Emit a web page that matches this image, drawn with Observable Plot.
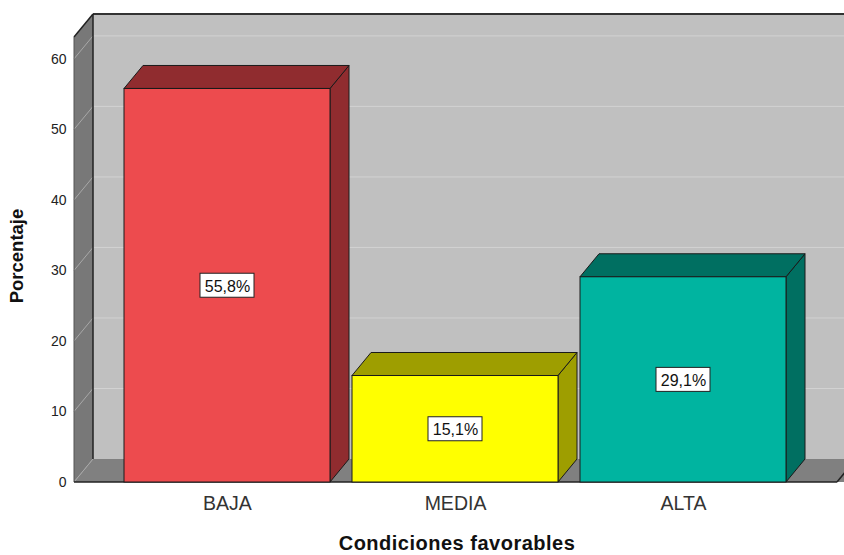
<!DOCTYPE html>
<html>
<head>
<meta charset="utf-8">
<script src="https://cdn.jsdelivr.net/npm/d3@7"></script>
<script src="https://cdn.jsdelivr.net/npm/@observablehq/plot@0.6"></script>
<style>
  html, body { margin: 0; padding: 0; background: #fff; }
  #chart svg { display: block; }
  #chart g[font-size="20"][font-weight="bold"] { letter-spacing: 0.5px; }
</style>
</head>
<body>
<div id="chart"></div>
<script>
// ---- data ----
const categories = ["BAJA", "MEDIA", "ALTA"];
const values = [55.8, 15.1, 29.1];
const valueLabels = ["55,8%", "15,1%", "29,1%"];
const frontColors = ["#ED4B4E", "#FFFF00", "#00B4A0"];
const sideColors = ["#902C2F", "#9E9E00", "#006F61"];
const yTicks = [0, 10, 20, 30, 40, 50, 60];
const yMax = 63.1;
const xTitle = "Condiciones favorables";
const yTitle = "Porcentaje";

const data = categories.map((c, i) => ({cat: c, value: values[i], label: valueLabels[i], side: sideColors[i]}));

// 3D depth offsets (pixels)
const DX = 19, DY = -23;
const FONT = "'Liberation Sans', Arial, sans-serif";

function walls(index, scales, values, dims) {
  const {x, y} = scales;
  const x0 = dims.marginLeft, x1 = dims.width - dims.marginRight;
  const y0 = y(0), yT = y(yMax);
  const g = d3.create("svg:g");
  // back wall
  g.append("rect").attr("x", x0 + DX).attr("y", yT + DY).attr("width", x1 - x0 + 10).attr("height", y0 - yT)
    .attr("fill", "#c0c0c0");
  // left wall
  g.append("polygon").attr("points", [[x0, yT], [x0 + DX, yT + DY], [x0 + DX, y0 + DY], [x0, y0]].join(" "))
    .attr("fill", "#787878");
  // floor
  g.append("polygon").attr("points", [[x0, y0], [x0 + DX, y0 + DY], [x1 + DX + 10, y0 + DY], [x1 + 10, y0]].join(" "))
    .attr("fill", "#808080");
  // grid lines
  for (const t of yTicks) {
    if (t === 0) continue;
    g.append("line").attr("x1", x0 + DX).attr("x2", x1 + DX + 10).attr("y1", y(t) + DY).attr("y2", y(t) + DY)
      .attr("stroke", "#d2d2d2").attr("stroke-width", 1);
    g.append("line").attr("x1", x0).attr("x2", x0 + DX).attr("y1", y(t)).attr("y2", y(t) + DY)
      .attr("stroke", "#a8a8a8").attr("stroke-width", 1);
  }
  g.append("line").attr("x1", x0).attr("x2", x0 + DX).attr("y1", y0).attr("y2", y0 + DY)
    .attr("stroke", "#a8a8a8").attr("stroke-width", 1);
  // edges
  const edge = (a, b, w = 1.5, c = "#222") => g.append("line").attr("x1", a[0]).attr("y1", a[1]).attr("x2", b[0]).attr("y2", b[1])
    .attr("stroke", c).attr("stroke-width", w);
  edge([x0 + DX, yT + DY], [x1 + DX + 10, yT + DY], 2, "#333");
  edge([x0 + DX, yT + DY], [x0 + DX, y0 + DY], 1.5);
  edge([x0, yT], [x0 + DX, yT + DY], 1.5);
  edge([x0, yT], [x0, y0], 1, "#555");
  edge([x0, y0], [x1, y0], 1.5);
  edge([x1, y0], [x1 + DX, y0 + DY], 1.5);
  return g.node();
}

function barSides(index, scales, values, dims) {
  const {x, y} = scales;
  const bw = x.bandwidth();
  const g = d3.create("svg:g");
  for (const d of data) {
    const xl = x(d.cat), xr = xl + bw, yv = y(d.value), y0 = y(0);
    g.append("polygon")
      .attr("points", [[xr, yv], [xr + DX, yv + DY], [xr + DX, y0 + DY], [xr, y0]].join(" "))
      .attr("fill", d.side).attr("stroke", "#1a1a1a").attr("stroke-width", 1).attr("stroke-linejoin", "round");
    g.append("polygon")
      .attr("points", [[xl, yv], [xl + DX, yv + DY], [xr + DX, yv + DY], [xr, yv]].join(" "))
      .attr("fill", d.side).attr("stroke", "#1a1a1a").attr("stroke-width", 1).attr("stroke-linejoin", "round");
  }
  return g.node();
}

const plot = Plot.plot({
  width: 844,
  height: 555,
  marginLeft: 74,
  marginRight: 7,
  marginTop: 37,
  marginBottom: 73,
  style: {fontFamily: FONT, background: "#fff", overflow: "hidden"},
  x: {type: "band", domain: categories, paddingInner: 0.096, paddingOuter: 0.214, axis: null},
  y: {domain: [0, yMax], axis: null},
  color: {domain: categories, range: frontColors},
  marks: [
    walls,
    barSides,
    Plot.barY(data, {x: "cat", y: "value", fill: "cat", stroke: "#1a1a1a", strokeWidth: 1, inset: 0}),
    // value label boxes
    Plot.barY(data, {x: "cat", y1: d => d.value / 2, y2: d => d.value / 2,
      insetLeft: 76, insetRight: 76, insetTop: -12, insetBottom: -12,
      fill: "#fff", stroke: "#222", strokeWidth: 1}),
    Plot.text(data, {x: "cat", y: d => d.value / 2, text: "label", fontSize: 16, fill: "#111", dy: 1}),
    // y tick labels
    Plot.text(yTicks, {y: d => d, text: d => String(d), frameAnchor: "left", dx: -8, textAnchor: "end",
      fontSize: 14, fill: "#222"}),
    // x tick labels
    Plot.text(data, {x: "cat", text: "cat", frameAnchor: "bottom", lineAnchor: "middle", dy: 21,
      fontSize: 19.5, fill: "#333"}),
    // axis titles
    Plot.text([yTitle], {text: d => d, frameAnchor: "left", textAnchor: "middle", lineAnchor: "middle",
      dx: -57, dy: -4, rotate: -90, fontSize: 18.5, fontWeight: "bold", fill: "#111"}),
    Plot.text([xTitle], {text: d => d, frameAnchor: "bottom", textAnchor: "middle", lineAnchor: "middle",
      dy: 61, dx: 1, fontSize: 20, fontWeight: "bold", fill: "#111"})
  ]
});

document.getElementById("chart").appendChild(plot);
</script>
</body>
</html>
